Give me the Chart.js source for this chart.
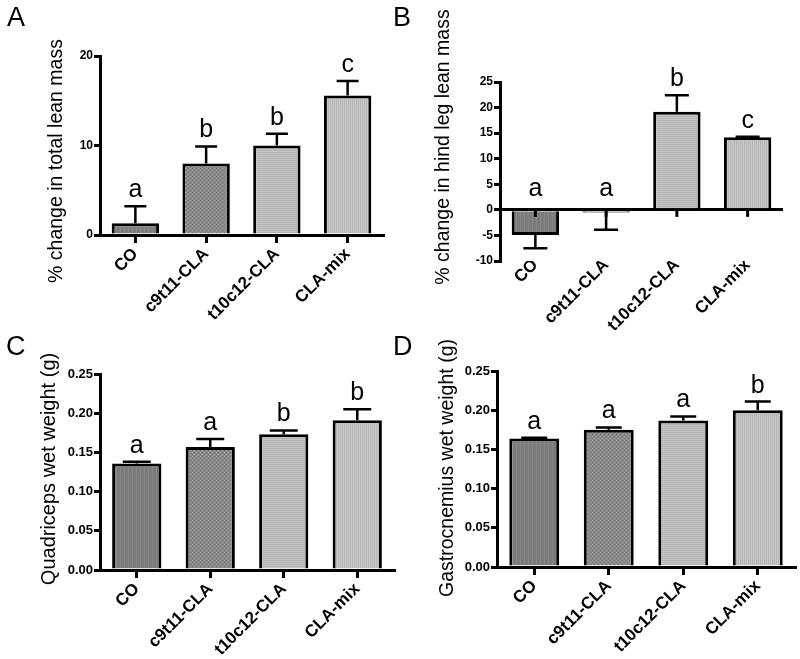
<!DOCTYPE html>
<html>
<head>
<meta charset="utf-8">
<script src="https://cdn.jsdelivr.net/npm/chart.js@4"></script>
<style>
body { margin: 0; background: #fff; width: 800px; height: 659px; position: relative; overflow: hidden; font-family: "Liberation Sans", Arial, sans-serif; }
.panel { position: absolute; width: 400px; height: 330px; }
.tag { position: absolute; font-size: 27px; line-height: 1; color: #000; }
</style>
</head>
<body>
<div class="panel" style="left:0;top:0"><canvas id="chartA" width="400" height="330"></canvas></div>
<div class="panel" style="left:400px;top:0"><canvas id="chartB" width="400" height="330"></canvas></div>
<div class="panel" style="left:0;top:330px"><canvas id="chartC" width="400" height="330"></canvas></div>
<div class="panel" style="left:400px;top:330px"><canvas id="chartD" width="400" height="330"></canvas></div>
<div class="tag" style="left:7px;top:4px">A</div>
<div class="tag" style="left:393px;top:4px">B</div>
<div class="tag" style="left:6px;top:333px">C</div>
<div class="tag" style="left:393px;top:333px">D</div>
<script>
const categories = ['CO', 'c9t11-CLA', 't10c12-CLA', 'CLA-mix'];

// A: % change in total lean mass
const totalLean = [1.3, 8.0, 10.0, 15.6];
const totalLeanErr = [1.9, 1.9, 1.3, 1.6];
const totalLeanLetters = ['a', 'b', 'b', 'c'];

// B: % change in hind leg lean mass
const hindLean = [-4.9, -0.5, 19.2, 14.2];
const hindLeanErr = [2.6, 3.4, 3.2, 0.1];
const hindLeanLetters = ['a', 'a', 'b', 'c'];

// C: quadriceps wet weight (g)
const quadWeight = [0.136, 0.157, 0.173, 0.191];
const quadWeightErr = [0.002, 0.010, 0.005, 0.014];
const quadLetters = ['a', 'a', 'b', 'b'];

// D: gastrocnemius wet weight (g)
const gastroWeight = [0.164, 0.175, 0.187, 0.200];
const gastroWeightErr = [0.001, 0.003, 0.005, 0.011];
const gastroLetters = ['a', 'a', 'a', 'b'];

const FONT = '"Liberation Sans", Arial, sans-serif';

// hatch-like fills, one per group
function makePattern(kind) {
    const c = document.createElement('canvas');
    c.width = 4; c.height = 4;
    const g = c.getContext('2d');
    if (kind === 'co') {
        g.fillStyle = '#7c7c7c'; g.fillRect(0, 0, 4, 4);
        g.fillStyle = '#868686'; g.fillRect(0, 0, 1, 4);
    } else if (kind === 'c9') {
        g.fillStyle = '#8a8a8a'; g.fillRect(0, 0, 4, 4);
        g.fillStyle = '#7a7a7a'; g.fillRect(0, 0, 1, 1); g.fillRect(2, 2, 1, 1);
        g.fillStyle = '#9a9a9a'; g.fillRect(2, 0, 1, 1); g.fillRect(0, 2, 1, 1);
    } else if (kind === 't10') {
        g.fillStyle = '#c6c6c6'; g.fillRect(0, 0, 4, 4);
        g.fillStyle = '#b2b2b2'; g.fillRect(0, 0, 4, 1); g.fillRect(0, 2, 4, 1);
    } else {
        g.fillStyle = '#c8c8c8'; g.fillRect(0, 0, 4, 4);
        g.fillStyle = '#b6b6b6'; g.fillRect(0, 0, 1, 4); g.fillRect(2, 0, 1, 4);
    }
    return g.createPattern(c, 'repeat');
}
const fills = [makePattern('co'), makePattern('c9'), makePattern('t10'), makePattern('mix')];

const panelDecor = {
    id: 'panelDecor',
    afterDatasetsDraw(chart, args, opts) {
        const { ctx, scales: { x, y } } = chart;
        const meta = chart.getDatasetMeta(0);
        ctx.save();
        ctx.strokeStyle = '#000';
        ctx.fillStyle = '#000';
        // tick marks under the zero line (panel B)
        if (opts.zeroTicks) {
            const y0 = y.getPixelForValue(0);
            ctx.lineWidth = 3;
            categories.forEach((c, i) => {
                const px = x.getPixelForTick(i);
                ctx.beginPath(); ctx.moveTo(px, y0); ctx.lineTo(px, y0 + 7); ctx.stroke();
            });
        }
        // error bars (one-sided) and group letters
        ctx.lineWidth = 2.5;
        ctx.font = '25px ' + FONT;
        ctx.textAlign = 'center';
        ctx.textBaseline = 'alphabetic';
        opts.values.forEach((v, i) => {
            const e = opts.errors[i];
            const end = v >= 0 ? v + e : v - e;
            const cx = meta.data[i].x;
            const yv = y.getPixelForValue(v), ye = y.getPixelForValue(end);
            ctx.beginPath();
            ctx.moveTo(cx, yv); ctx.lineTo(cx, ye);
            ctx.moveTo(cx - opts.cap / 2, ye); ctx.lineTo(cx + opts.cap / 2, ye);
            ctx.stroke();
            const top = v >= 0 ? v + e : 0;
            ctx.fillText(opts.letters[i], cx, y.getPixelForValue(top) - (v >= 0 ? 9 : 14));
        });
        // y axis title
        ctx.font = opts.titleSize + 'px ' + FONT;
        ctx.textBaseline = 'middle';
        ctx.translate(opts.titleX, opts.titleY);
        ctx.rotate(-Math.PI / 2);
        ctx.fillText(opts.title, 0, 0);
        ctx.restore();
    }
};

function makeChart(cfg) {
    const ctxt = document.getElementById(cfg.canvasId).getContext('2d');
    return new Chart(ctxt, {
        type: 'bar',
        data: {
            labels: categories,
            datasets: [{
                data: cfg.values,
                backgroundColor: fills,
                borderColor: '#000',
                borderWidth: 3,
                borderSkipped: 'start',
                inflateAmount: 0,
                barPercentage: 0.67,
                categoryPercentage: 1
            }]
        },
        options: {
            responsive: false,
            animation: false,
            layout: { padding: { top: cfg.top, right: cfg.right, left: 0, bottom: 0 } },
            plugins: {
                legend: { display: false },
                tooltip: { enabled: false },
                panelDecor: {
                    values: cfg.values, errors: cfg.errors, letters: cfg.letters, cap: cfg.cap,
                    zeroTicks: cfg.zeroLine, title: cfg.title, titleX: cfg.titleX, titleY: cfg.titleY,
                    titleSize: cfg.titleSize
                }
            },
            scales: {
                x: {
                    ticks: {
                        color: '#000', minRotation: 45, maxRotation: 45, padding: cfg.labelPad,
                        font: { family: FONT, weight: 'bold', size: 17 }
                    },
                    grid: {
                        display: !cfg.zeroLine, drawOnChartArea: false, offset: false,
                        color: '#000', lineWidth: 3, tickLength: 8
                    },
                    border: { display: !cfg.zeroLine, color: '#000', width: 3 },
                    afterFit: s => { s.height = cfg.bottomSpace; }
                },
                y: {
                    min: cfg.min, max: cfg.max,
                    ticks: {
                        stepSize: cfg.step, color: '#000', padding: 1,
                        font: { family: FONT, weight: 'bold', size: cfg.tickSize },
                        callback: v => cfg.fmt(v)
                    },
                    grid: {
                        drawOnChartArea: cfg.zeroLine,
                        color: c => (cfg.zeroLine && c.tick && Math.abs(c.tick.value) < 1e-9) ? '#000' : 'rgba(0,0,0,0)',
                        tickColor: '#000', lineWidth: 3, tickLength: 6
                    },
                    border: { display: true, color: '#000', width: 3 },
                    afterFit: s => { s.width = cfg.left; }
                }
            }
        },
        plugins: [panelDecor]
    });
}

document.addEventListener('DOMContentLoaded', () => {
    makeChart({
        canvasId: 'chartA', values: totalLean, errors: totalLeanErr, letters: totalLeanLetters,
        min: 0, max: 20, step: 10, fmt: v => String(v), tickSize: 12, zeroLine: false,
        left: 100, top: 56, right: 17, bottomSpace: 95, cap: 22, labelPad: 1,
        title: '% change in total lean mass', titleX: 57, titleY: 161, titleSize: 19.5
    });
    makeChart({
        canvasId: 'chartB', values: hindLean, errors: hindLeanErr, letters: hindLeanLetters,
        min: -10, max: 25, step: 5, fmt: v => String(v), tickSize: 12, zeroLine: true,
        left: 100, top: 82, right: 17, bottomSpace: 69, cap: 24, labelPad: -14,
        title: '% change in hind leg lean mass', titleX: 44, titleY: 147, titleSize: 19.5
    });
    makeChart({
        canvasId: 'chartC', values: quadWeight, errors: quadWeightErr, letters: quadLetters,
        min: 0, max: 0.25, step: 0.05, fmt: v => v.toFixed(2), tickSize: 13, zeroLine: false,
        left: 100, top: 44, right: 6, bottomSpace: 90, cap: 28, labelPad: 1,
        title: 'Quadriceps wet weight (g)', titleX: 49, titleY: 139, titleSize: 20
    });
    makeChart({
        canvasId: 'chartD', values: gastroWeight, errors: gastroWeightErr, letters: gastroLetters,
        min: 0, max: 0.25, step: 0.05, fmt: v => v.toFixed(2), tickSize: 13, zeroLine: false,
        left: 97, top: 41, right: 5, bottomSpace: 93, cap: 26, labelPad: 1,
        title: 'Gastrocnemius wet weight (g)', titleX: 48, titleY: 138, titleSize: 19.5
    });
});
</script>
</body>
</html>
